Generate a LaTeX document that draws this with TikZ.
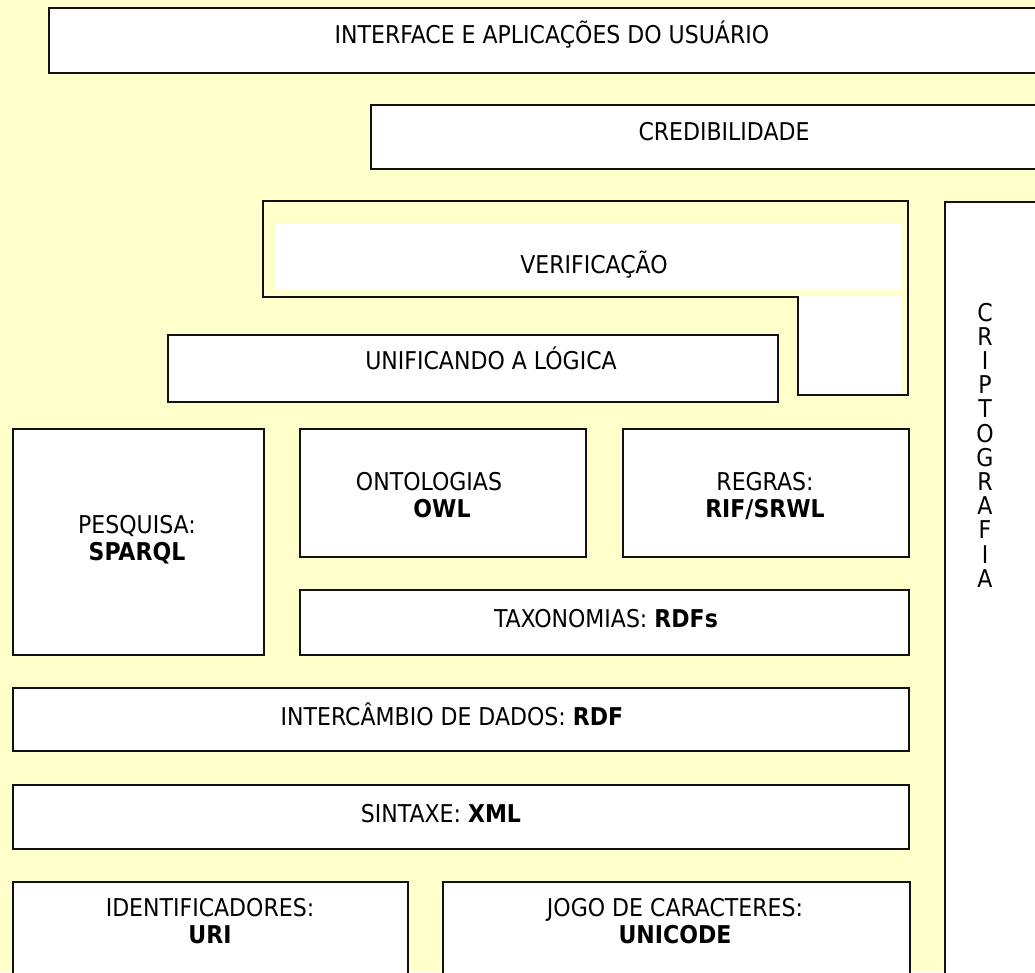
\documentclass[tikz,border=0pt]{standalone}
\usepackage{fontspec}
\setmainfont{DejaVu Sans Condensed}
\definecolor{bgyellow}{HTML}{FFFFCC}
\definecolor{edge}{HTML}{111111}
\tikzset{
  box/.style={draw=edge, line width=2.2pt, fill=white, rectangle, inner sep=0pt, anchor=north west},
  whitebox/.style={fill=white, draw=none, rectangle, inner sep=0pt, anchor=north west},
  txt/.style={anchor=base, inner sep=0pt, font=\fontsize{24.5}{28}\selectfont},
}
\begin{document}
\begin{tikzpicture}[x=1pt,y=-1pt]
\useasboundingbox (0,0) rectangle (1035,972);
\fill[bgyellow] (0,0) rectangle (1035,972);
\begin{scope}
\clip (0,0) rectangle (1035,972);
% boxes
\node[box, minimum width=997pt, minimum height=65pt] (interface) at (48,7) {};
\node[box, minimum width=675pt, minimum height=64pt] (cred) at (370,104) {};
\node[box, minimum width=101pt, minimum height=784pt] (cripto) at (944,201) {};
% verification L-shape
\node[whitebox, minimum width=627pt, minimum height=67pt] (verifA) at (275,223) {};
\node[whitebox, minimum width=103pt, minimum height=97pt] (verifB) at (799,296) {};
\draw[edge, line width=2.2pt] (263,201) -- (908,201) -- (908,395) -- (798,395) -- (798,297) -- (263,297) -- cycle;
\node[box, minimum width=610pt, minimum height=67pt] (unif) at (167,334) {};
\node[box, minimum width=251pt, minimum height=226pt] (pesq) at (12,428) {};
\node[box, minimum width=286pt, minimum height=128pt] (onto) at (299,428) {};
\node[box, minimum width=286pt, minimum height=128pt] (regras) at (622,428) {};
\node[box, minimum width=609pt, minimum height=65pt] (taxo) at (299,589) {};
\node[box, minimum width=896pt, minimum height=63pt] (inter) at (12,687) {};
\node[box, minimum width=896pt, minimum height=64pt] (sint) at (12,784) {};
\node[box, minimum width=395pt, minimum height=104pt] (ident) at (12,881) {};
\node[box, minimum width=467pt, minimum height=104pt] (jogo) at (442,881) {};
\end{scope}
% texts
\node[txt] (tInterface) at (552,43) {INTERFACE E APLICAÇÕES DO USUÁRIO};
\node[txt] (tCred) at (724,140) {CREDIBILIDADE};
\node[txt] (tVerif) at (594,273) {VERIFICAÇÃO};
\node[txt] (tUnif) at (491,369) {UNIFICANDO A LÓGICA};
\node[txt] (tPesq1) at (137,533) {PESQUISA:};
\node[txt] (tPesq2) at (137,560) {\bfseries SPARQL};
\node[txt] (tOnto1) at (429,490) {ONTOLOGIAS};
\node[txt] (tOnto2) at (442,517) {\bfseries OWL};
\node[txt] (tReg1) at (765,490) {REGRAS:};
\node[txt] (tReg2) at (765,517) {\bfseries RIF/SRWL};
\node[txt] (tTaxo) at (606,627) {TAXONOMIAS: \textbf{RDFs}};
\node[txt] (tInter) at (452,725) {INTERCÂMBIO DE DADOS: \textbf{RDF}};
\node[txt] (tSint) at (441,822) {SINTAXE: \textbf{XML}};
\node[txt] (tIdent1) at (210,916) {IDENTIFICADORES:};
\node[txt] (tIdent2) at (210,943) {\bfseries URI};
\node[txt] (tJogo1) at (675,916) {JOGO DE CARACTERES:};
\node[txt] (tJogo2) at (675,943) {\bfseries UNICODE};
\foreach \l [count=\i] in {C,R,I,P,T,O,G,R,A,F,I,A}
  \node[txt] (crip\i) at (985, {321+(\i-1)*24.2}) {\l};
\end{tikzpicture}
\end{document}
